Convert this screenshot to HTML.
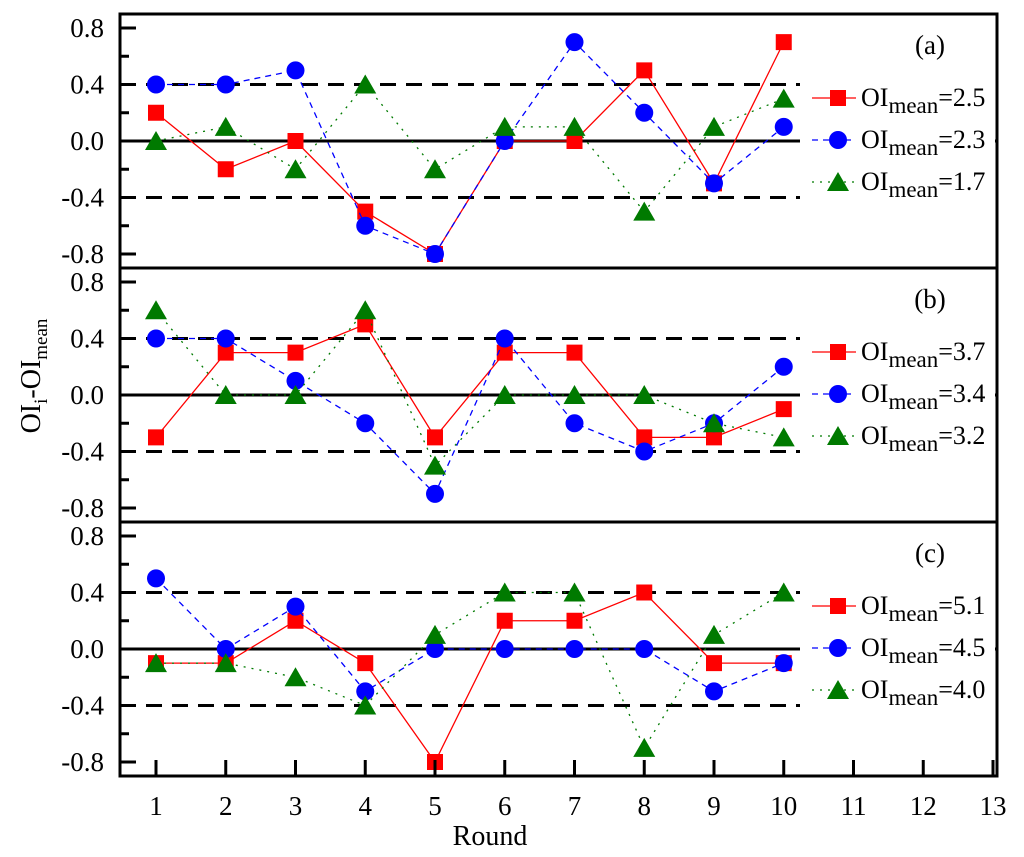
<!DOCTYPE html>
<html><head><meta charset="utf-8"><style>
body{margin:0;background:#fff;}
svg{display:block;}
svg text{font-family:"Liberation Serif","DejaVu Serif",serif;}
</style></head><body>
<svg id="chart" width="1024" height="857" viewBox="0 0 1024 857" xmlns="http://www.w3.org/2000/svg" font-family="Liberation Serif, serif"></svg>
<script>
const rounds=[1,2,3,4,5,6,7,8,9,10];
const xTicks=[1,2,3,4,5,6,7,8,9,10,11,12,13];
const yTicks=[-0.8,-0.4,0.0,0.4,0.8];
const panelLabels=["(a)","(b)","(c)"];
const legendA=["2.5","2.3","1.7"];
const legendB=["3.7","3.4","3.2"];
const legendC=["5.1","4.5","4.0"];
const aRed=[0.2,-0.2,0,-0.5,-0.8,0,0,0.5,-0.3,0.7];
const aBlue=[0.4,0.4,0.5,-0.6,-0.8,0,0.7,0.2,-0.3,0.1];
const aGreen=[0,0.1,-0.2,0.4,-0.2,0.1,0.1,-0.5,0.1,0.3];
const bRed=[-0.3,0.3,0.3,0.5,-0.3,0.3,0.3,-0.3,-0.3,-0.1];
const bBlue=[0.4,0.4,0.1,-0.2,-0.7,0.4,-0.2,-0.4,-0.2,0.2];
const bGreen=[0.6,0,0,0.6,-0.5,0,0,0,-0.2,-0.3];
const cRed=[-0.1,-0.1,0.2,-0.1,-0.8,0.2,0.2,0.4,-0.1,-0.1];
const cBlue=[0.5,0,0.3,-0.3,0,0,0,0,-0.3,-0.1];
const cGreen=[-0.1,-0.1,-0.2,-0.4,0.1,0.4,0.4,-0.7,0.1,0.4];

const NS="http://www.w3.org/2000/svg";
const svg=document.getElementById('chart');
const FF='"Liberation Serif", serif';
function mk(tag,attrs,parent){const e=document.createElementNS(NS,tag);for(const k in attrs)e.setAttribute(k,attrs[k]);if(tag==='text')e.setAttribute('font-family',FF);(parent||svg).appendChild(e);return e;}
const L=120,R=997,TOP=14,PH=254;
const xS=v=>156+(v-1)*69.75;
const panels=[
 {series:[aRed,aBlue,aGreen],leg:legendA},
 {series:[bRed,bBlue,bGreen],leg:legendB},
 {series:[cRed,cBlue,cGreen],leg:legendC}];
const styles=[
 {color:"#ff0000",dash:"",shape:"square",name:"red"},
 {color:"#0000ff",dash:"6 5",shape:"circle",name:"blue"},
 {color:"#007a00",dash:"2 6",shape:"triangle",name:"green"}];
function marker(g,shape,cx,cy,color){
 let m;
 if(shape==="square")m=mk('rect',{x:cx-8,y:cy-8,width:16,height:16,fill:color},g);
 else if(shape==="circle")m=mk('circle',{cx:cx,cy:cy,r:9,fill:color},g);
 else m=mk('polygon',{points:`${cx},${cy-10} ${cx-11},${cy+9} ${cx+11},${cy+9}`,fill:color},g);
 return m;
}
panels.forEach((p,pi)=>{
 const top=TOP+pi*PH;
 const y0=top+PH/2;
 const yS=v=>y0-v*141.25;
 const g=mk('g',{});
 
 
 [0.4,-0.4].forEach(v=>{const l=mk('line',{x1:L,x2:R,y1:yS(v),y2:yS(v),stroke:"#000","stroke-width":3,"stroke-dasharray":"16 10"},g);
  });
 const z=mk('line',{x1:L,x2:R,y1:y0,y2:y0,stroke:"#000","stroke-width":3},g);
 
 for(let v=-0.8;v<=0.81;v+=0.2){const major=Math.abs(Math.round(v*10))%4===0;
  mk('line',{x1:L,x2:L+(major?16:9),y1:yS(v),y2:yS(v),stroke:"#000","stroke-width":3},g);}
 yTicks.forEach(v=>{const t=mk('text',{x:104,y:yS(v)+9,"text-anchor":"end","font-size":27},g);t.textContent=v.toFixed(1);
  });
 // legend background
 const lb=mk('rect',{x:800,y:y0-68,width:195,height:132,fill:"#fff"},g);
 
 p.series.forEach((s,si)=>{const st=styles[si];
  const pts=s.map((v,i)=>xS(rounds[i])+","+yS(v)).join(" ");
  const pl=mk('polyline',{points:pts,fill:"none",stroke:st.color,"stroke-width":1.3,"stroke-dasharray":st.dash},g);
  
  s.forEach((v,i)=>{const m=marker(g,st.shape,xS(rounds[i]),yS(v),st.color);
   });
 });
 const pl=mk('text',{x:930,y:top+40,"text-anchor":"middle","font-size":27},g);pl.textContent=panelLabels[pi];
 
 p.leg.forEach((lv,li)=>{const st=styles[li];const ly=y0-43+li*42;
  const lg=mk('g',{},g);
  
  mk('line',{x1:812,x2:856,y1:ly,y2:ly,stroke:st.color,"stroke-width":1.3,"stroke-dasharray":st.dash},lg);
  marker(lg,st.shape,838,ly,st.color);
  const t=mk('text',{x:861,y:ly+8,"font-size":26},lg);
  t.innerHTML='OI<tspan font-size="23" dy="7">mean</tspan><tspan dy="-7">='+lv+'</tspan>';
 });
 const f=mk('rect',{x:L,y:top,width:R-L,height:PH,fill:"none",stroke:"#000","stroke-width":3},g);
 
});
const bottom=TOP+3*PH;
xTicks.forEach(v=>{mk('line',{x1:xS(v),x2:xS(v),y1:bottom,y2:bottom-16,stroke:"#000","stroke-width":3});
 const t=mk('text',{x:xS(v),y:815,"text-anchor":"middle","font-size":27});t.textContent=v;
 });
const xt=mk('text',{x:490,y:845,"text-anchor":"middle","font-size":28});xt.textContent="Round";

const yt=mk('text',{x:0,y:0,"text-anchor":"middle","font-size":28,transform:"translate(40,376) rotate(-90)"});
yt.innerHTML='OI<tspan font-size="19" dy="7">i</tspan><tspan dy="-7">-OI</tspan><tspan font-size="19" dy="7">mean</tspan>';

</script>
</body></html>
